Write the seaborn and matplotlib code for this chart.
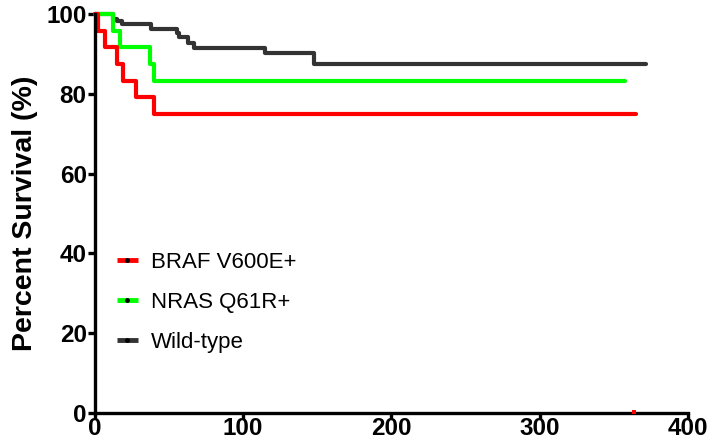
import pandas as pd
import matplotlib
matplotlib.use('Agg')
import matplotlib.pyplot as plt
import seaborn as sns
from matplotlib.lines import Line2D

# 数据 ================================================
groups = ['BRAF V600E+', 'NRAS Q61R+', 'Wild-type']
braf_t = [0, 2, 7, 15, 19, 28, 40, 365]
braf_s = [100, 95.8, 91.7, 87.5, 83.3, 79.2, 75.0, 75.0]
nras_t = [0, 12, 17, 37, 40, 358]
nras_s = [100, 95.8, 91.7, 87.5, 83.3, 83.3]
wt_t = [0, 12, 15, 18, 38, 55, 57, 63, 67, 115, 148, 372]
wt_s = [100, 98.9, 98.3, 97.5, 96.2, 95.2, 94.2, 92.8, 91.6, 90.2, 87.6, 87.6]
# 孤立的红色小点（x轴上）
stray_t = [364]
stray_s = [0.3]
x_ticks = [0, 100, 200, 300, 400]
y_ticks = [0, 20, 40, 60, 80, 100]

colors = {'BRAF V600E+': '#ff0000', 'NRAS Q61R+': '#00ff00', 'Wild-type': '#333333'}

df = pd.concat([
    pd.DataFrame({'group': g, 'time': t, 'pct': s})
    for g, t, s in zip(groups, [braf_t, nras_t, wt_t], [braf_s, nras_s, wt_s])
], ignore_index=True)

# 绘图 ================================================
sns.set_style('ticks')
plt.rcParams['font.family'] = ['Liberation Sans', 'DejaVu Sans']
plt.rcParams['text.color'] = 'black'
plt.rcParams['axes.labelcolor'] = 'black'
plt.rcParams['xtick.color'] = 'black'
plt.rcParams['ytick.color'] = 'black'

fig = plt.figure(figsize=(7.09, 4.43), dpi=100)
ax = fig.add_axes([0.134, 0.068, 0.836, 0.900])

sns.lineplot(data=df, x='time', y='pct', hue='group', hue_order=groups[::-1],
             palette=colors, drawstyle='steps-post', estimator=None,
             linewidth=3, solid_capstyle='round', legend=False, ax=ax,
             clip_on=False)
ax.plot(stray_t, stray_s, 's', color='#ff0000', markersize=2.2, zorder=5,
        markeredgewidth=0, clip_on=False)

ax.set_xlim(0, 400)
ax.set_ylim(0, 100)
ax.set_xticks(x_ticks)
ax.set_yticks(y_ticks)
ax.set_xlabel('')
ax.set_ylabel('Percent Survival (%)', fontsize=20.5, fontweight='bold', labelpad=6)

for lab in ax.get_xticklabels() + ax.get_yticklabels():
    lab.set_fontweight('bold')
    lab.set_fontsize(17.5)

sns.despine(ax=ax)
for sp in ['left', 'bottom']:
    ax.spines[sp].set_linewidth(2.4)
    ax.spines[sp].set_color('black')
ax.tick_params(width=2.4, length=5, pad=1)
ax.tick_params(axis='x', length=4, pad=-1)

handles = [Line2D([0], [0], color=colors[g], lw=3.5, marker='o', markersize=2.5,
                  markerfacecolor='black', markeredgecolor='black',
                  solid_capstyle='butt') for g in groups]
ax.legend(handles, groups, loc='upper left', bbox_to_anchor=(0.003, 0.453),
          frameon=False, fontsize=16, handlelength=0.95, handletextpad=0.6,
          labelspacing=0.85, numpoints=1)

fig.savefig('out.png', dpi=100)
